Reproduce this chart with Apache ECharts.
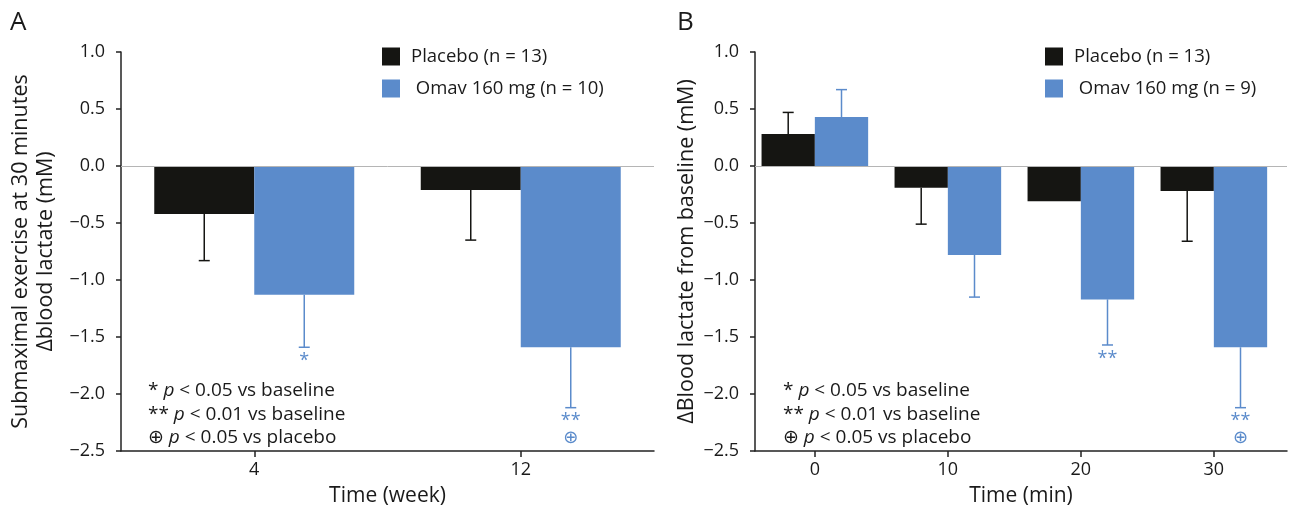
<!DOCTYPE html>
<html>
<head>
<meta charset="utf-8">
<script src="https://cdn.jsdelivr.net/npm/echarts@6/dist/echarts.min.js"></script>
<style>
html,body{margin:0;padding:0;background:#fff;}
#chart{width:1290px;height:513px;}
</style>
</head>
<body>
<div id="chart"></div>
<script>
// ---------- Data ----------
// Panel A: time in weeks
const weeksA = [4, 12];
const placeboA = [-0.42, -0.21];
const placeboAErrEnd = [-0.83, -0.65];
const omavA = [-1.13, -1.59];
const omavAErrEnd = [-1.59, -2.12];
const sigA = ['*', '**\n⊕'];

// Panel B: time in minutes
const minutesB = [0, 10, 20, 30];
const placeboB = [0.28, -0.19, -0.31, -0.22];
const placeboBErrEnd = [0.47, -0.51, null, -0.66];
const omavB = [0.43, -0.78, -1.17, -1.59];
const omavBErrEnd = [0.67, -1.15, -1.57, -2.12];
const sigB = ['', '', '**', '**\n⊕'];

const yTicks = [1.0, 0.5, 0.0, -0.5, -1.0, -1.5, -2.0, -2.5];
const xTicksA = [4, 12];
const xTicksB = [0, 10, 20, 30];

const nameA_placebo = 'Placebo (n = 13)';
const nameA_omav = ' Omav 160 mg (n = 10)';
const nameB_placebo = 'Placebo (n = 13) ';
const nameB_omav = ' Omav 160 mg (n = 9)';

// ---------- Styles ----------
const BLACK = '#151512';
const BLUE = '#5b8bcb';
const TEXT = '#1a1a1a';
const FONT = "'Open Sans', 'DejaVu Sans', sans-serif";

const chart = echarts.init(document.getElementById('chart'), null, {renderer: 'canvas'});

function pairs(xs, ys) { return xs.map((x, i) => [x, ys[i]]); }
function errData(xs, vals, ends, sigs) {
  const out = [];
  xs.forEach((x, i) => {
    if (ends[i] === null || ends[i] === undefined) return;
    out.push([x, vals[i], ends[i], sigs ? sigs[i] : '']);
  });
  return out;
}
function fmtY(v) {
  const s = Math.abs(v).toFixed(1);
  return v < 0 ? '\u2212' + s : s;
}

function errSeries(name, gridIdx, data, color, offsetPx) {
  return {
    type: 'custom',
    name: name + '_err',
    xAxisIndex: gridIdx, yAxisIndex: gridIdx,
    silent: true,
    clip: false,
    z: 3,
    encode: {x: 0, y: [1, 2]},
    renderItem: function (params, api) {
      const x = api.value(0);
      const base = api.value(1);
      const end = api.value(2);
      const sig = data[params.dataIndex][3];
      const p0 = api.coord([x, base]);
      const p1 = api.coord([x, end]);
      const cx = p0[0] + offsetPx;
      const cap = 5.5;
      const children = [
        {type: 'line', shape: {x1: cx, y1: p0[1], x2: cx, y2: p1[1]}, style: {stroke: color, lineWidth: 1.5}},
        {type: 'line', shape: {x1: cx - cap, y1: p1[1], x2: cx + cap, y2: p1[1]}, style: {stroke: color, lineWidth: 1.5}}
      ];
      if (sig) {
        children.push({
          type: 'text',
          x: cx, y: p1[1] + 5,
          style: {text: sig, fill: color, font: '18px ' + FONT, align: 'center', verticalAlign: 'top', lineHeight: 17}
        });
      }
      return {type: 'group', children: children};
    },
    data: data
  };
}

function barSeries(name, gridIdx, data, color, width, withZero) {
  const s = {
    type: 'bar',
    name: name,
    xAxisIndex: gridIdx, yAxisIndex: gridIdx,
    barWidth: width,
    barGap: '0%',
    itemStyle: {color: color},
    emphasis: {disabled: true},
    z: 2,
    data: data
  };
  if (withZero) {
    s.markLine = {
      silent: true, symbol: 'none', animation: false,
      label: {show: false},
      lineStyle: {color: '#b5b5b5', width: 1, type: 'solid'},
      data: [{yAxis: 0}]
    };
  }
  return s;
}

const axisLineStyle = {color: '#222', width: 1.5};

function yAxis(gridIdx, nameText, nameGap) {
  return {
    type: 'value', gridIndex: gridIdx,
    min: -2.5, max: 1.0, interval: 0.5,
    name: nameText, nameLocation: 'middle', nameGap: nameGap,
    nameTextStyle: {color: TEXT, fontSize: 21.5, fontFamily: FONT, lineHeight: 25},
    axisLine: {show: true, onZero: false, lineStyle: axisLineStyle},
    axisTick: {show: true, length: 5, lineStyle: axisLineStyle},
    axisLabel: {color: TEXT, fontSize: 18, fontFamily: FONT, margin: 16, formatter: fmtY},
    splitLine: {show: false}
  };
}
function xAxis(gridIdx, min, max, ticks, nameText) {
  return {
    type: 'value', gridIndex: gridIdx,
    min: min, max: max,
    name: nameText, nameLocation: 'middle', nameGap: 35,
    nameTextStyle: {color: TEXT, fontSize: 21, fontFamily: FONT},
    axisLine: {show: true, onZero: false, lineStyle: axisLineStyle},
    axisTick: {show: true, length: 6, customValues: ticks, lineStyle: axisLineStyle},
    axisLabel: {color: TEXT, fontSize: 18, fontFamily: FONT, margin: 10, customValues: ticks},
    splitLine: {show: false}
  };
}

const legendCommon = {
  orient: 'vertical',
  itemWidth: 18, itemHeight: 18, itemGap: 13,
  icon: 'rect',
  selectedMode: false,
  textStyle: {color: TEXT, fontSize: 18.5, fontFamily: FONT, padding: [0, 0, 0, 6]}
};

const option = {
  animation: false,
  backgroundColor: '#fff',
  textStyle: {fontFamily: FONT},
  grid: [
    {left: 121, right: 636, top: 52, bottom: 62, outerBoundsMode: 'none'},
    {left: 755, right: 3, top: 52, bottom: 62, outerBoundsMode: 'none'}
  ],
  legend: [
    Object.assign({}, legendCommon, {left: 377, top: 42, data: [nameA_placebo, nameA_omav]}),
    Object.assign({}, legendCommon, {left: 1040, top: 42, data: [nameB_placebo, nameB_omav]})
  ],
  xAxis: [
    xAxis(0, 0, 16, xTicksA, 'Time (week)'),
    xAxis(1, -4.5, 35.5, xTicksB, 'Time (min)')
  ],
  yAxis: [
    yAxis(0, 'Submaximal exercise at 30 minutes\n\u0394blood lactate (mM)', 63),
    yAxis(1, '\u0394Blood lactate from baseline (mM)', 56)
  ],
  graphic: [
    {type: 'text', left: 10, top: 10, style: {text: 'A', fill: TEXT, font: '26px ' + FONT}},
    {type: 'text', left: 677, top: 10, style: {text: 'B', fill: TEXT, font: '26px ' + FONT}},
    {type: 'text', left: 148, top: 379, style: {
      text: '* {i|p} < 0.05 vs baseline\n** {i|p} < 0.01 vs baseline\n\u2295 {i|p} < 0.05 vs placebo',
      fill: TEXT, font: '19px ' + FONT, lineHeight: 23.5,
      rich: {i: {fontStyle: 'italic', fontSize: 19, fontFamily: FONT, fill: TEXT, lineHeight: 23.5}}
    }},
    {type: 'text', left: 783, top: 379, style: {
      text: '* {i|p} < 0.05 vs baseline\n** {i|p} < 0.01 vs baseline\n\u2295 {i|p} < 0.05 vs placebo',
      fill: TEXT, font: '19px ' + FONT, lineHeight: 23.5,
      rich: {i: {fontStyle: 'italic', fontSize: 19, fontFamily: FONT, fill: TEXT, lineHeight: 23.5}}
    }}
  ],
  series: [
    barSeries(nameA_placebo, 0, pairs(weeksA, placeboA), BLACK, 100, true),
    barSeries(nameA_omav, 0, pairs(weeksA, omavA), BLUE, 100, false),
    errSeries(nameA_placebo, 0, errData(weeksA, placeboA, placeboAErrEnd, null), BLACK, -50),
    errSeries(nameA_omav, 0, errData(weeksA, omavA, omavAErrEnd, sigA), BLUE, 50),
    barSeries(nameB_placebo, 1, pairs(minutesB, placeboB), BLACK, 53.3, true),
    barSeries(nameB_omav, 1, pairs(minutesB, omavB), BLUE, 53.3, false),
    errSeries(nameB_placebo, 1, errData(minutesB, placeboB, placeboBErrEnd, null), BLACK, -26.65),
    errSeries(nameB_omav, 1, errData(minutesB, omavB, omavBErrEnd, sigB), BLUE, 26.65)
  ]
};
chart.setOption(option);
</script>
</body>
</html>
